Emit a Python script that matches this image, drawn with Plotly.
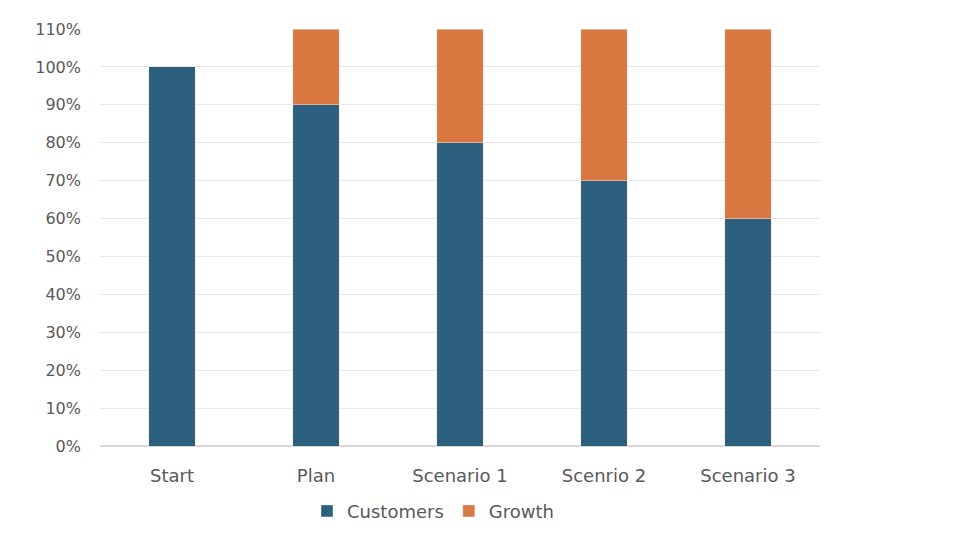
import plotly.graph_objects as go

categories = ["Start", "Plan", "Scenario 1", "Scenrio 2", "Scenario 3"]
customers = [100, 90, 80, 70, 60]
growth = [0, 20, 30, 40, 50]
y_ticks = list(range(0, 111, 10))
y_labels = [f"{v}%" for v in y_ticks]

blue = "#2D5F7E"
orange = "#D97941"

fig = go.Figure()
fig.add_trace(go.Bar(x=categories, y=customers, name="Customers", marker_color=blue))
fig.add_trace(go.Bar(x=categories, y=growth, name="Growth", marker_color=orange))

# page body has an 8px margin, so shift everything up/left by 8
fig.update_layout(
    barmode="stack",
    bargap=0.68,
    width=960,
    height=540,
    plot_bgcolor="white",
    paper_bgcolor="white",
    margin=dict(l=92, r=148, t=21, b=102),
    font=dict(family="DejaVu Sans", size=16, color="#595959"),
    legend=dict(
        orientation="h",
        x=0.4625,
        xanchor="center",
        y=-0.112,
        yanchor="top",
        font=dict(size=18),
        traceorder="normal",
    ),
)
fig.update_yaxes(
    range=[0, 110],
    tickvals=y_ticks,
    ticktext=y_labels,
    showgrid=True,
    gridcolor="#E8E8E8",
    zeroline=True,
    zerolinecolor="#D9D9D9",
    ticklabelstandoff=18,
)
fig.update_xaxes(showgrid=False, ticklabelstandoff=17, tickfont=dict(size=18))

fig.write_html("out.html")
